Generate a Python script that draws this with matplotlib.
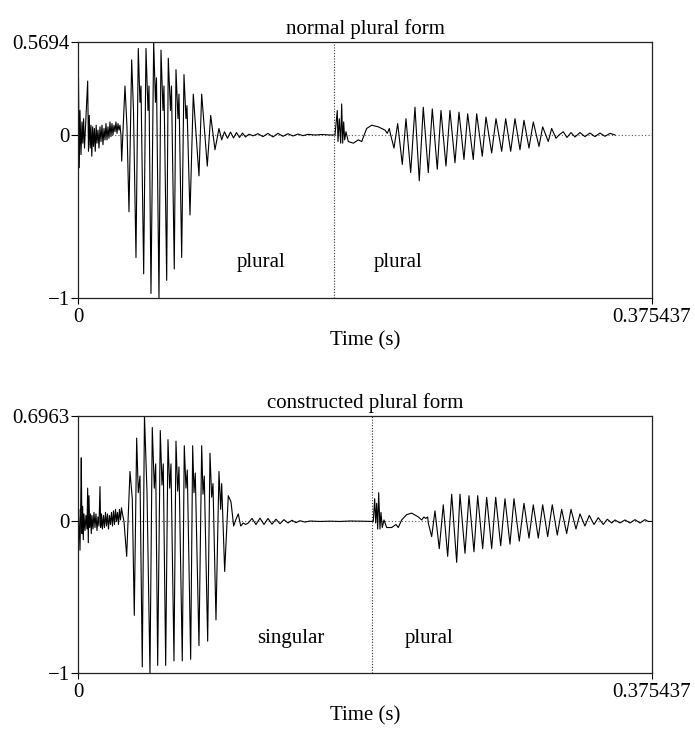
import numpy as np
import matplotlib
matplotlib.use("Agg")
import matplotlib.pyplot as plt

plt.rcParams['font.family'] = ['Liberation Serif', 'DejaVu Serif']
plt.rcParams['font.size'] = 15

# time axis end (s) and segment boundaries
t_end = 0.375437
boundary_top = 0.1674
boundary_bottom = 0.1923
titles = ["normal plural form", "constructed plural form"]
ymax = [0.5694, 0.6963]

# waveform turning points: (time in ms, amplitude)
top_noise = [(0.0, 0.0), (0.33, 0.35), (0.85, -0.20), (1.31, 0.15), (1.96, -0.12), (2.62, 0.08),
             (3.14, -0.05), (3.66, 0.10), (4.25, -0.08), (4.91, 0.05), (6.34, 0.33), (6.87, -0.10),
             (7.39, 0.12), (7.98, -0.08), (8.50, 0.06), (9.03, -0.13), (9.61, 0.05), (10.14, -0.07),
             (10.73, 0.04), (11.31, -0.10), (11.90, 0.06), (12.43, -0.05), (13.08, 0.03), (13.74, -0.08),
             (14.39, 0.05), (15.04, -0.04), (15.70, 0.06), (16.35, -0.06), (17.01, 0.04), (17.66, -0.03),
             (18.31, 0.07), (18.97, -0.03), (19.62, 0.05), (20.28, -0.02), (20.93, 0.08), (21.58, -0.01),
             (22.24, 0.07), (22.89, 0.0), (23.55, 0.06), (24.20, 0.02), (24.85, 0.08), (25.51, 0.01),
             (26.16, 0.07), (26.82, 0.03), (27.47, 0.06), (28.12, 0.0), (28.58, -0.16)]
top_burst = [(30.74, 0.30), (32.05, 0.05), (33.36, -0.47), (35.12, 0.46), (36.30, 0.15), (37.94, -0.75),
             (39.44, 0.53), (40.55, 0.20), (41.21, 0.30), (42.97, -0.85), (44.48, 0.53), (45.78, 0.15),
             (46.44, 0.30), (47.75, -0.97), (49.51, 0.57), (50.69, 0.20), (51.34, 0.35), (52.98, -1.0),
             (54.29, 0.52), (55.60, 0.15), (56.25, 0.30), (58.02, -0.89), (59.06, 0.47), (60.50, 0.15),
             (61.15, 0.30), (62.99, -0.82), (64.10, 0.40), (65.41, 0.10), (66.06, 0.25), (67.83, -0.75),
             (69.33, 0.37), (70.64, 0.10), (71.29, 0.18), (73.26, -0.49), (75.42, 0.25), (79.14, -0.25),
             (80.91, 0.25), (84.57, -0.19), (86.80, 0.12), (89.61, -0.09), (92.22, 0.04), (93.99, -0.03)]
top_ripple = [(95.82, 0.02), (97.78, -0.02), (99.75, 0.018), (101.71, -0.018), (103.67, 0.015),
              (105.63, -0.015), (107.59, 0.012), (109.56, -0.012), (111.85, 0.005), (114.46, -0.005),
              (117.73, 0.008), (121.00, -0.01), (124.27, 0.01), (127.54, -0.012), (130.81, 0.01),
              (134.08, -0.008), (137.35, 0.008), (140.63, -0.006), (143.90, 0.006), (147.17, -0.004),
              (150.44, 0.004), (155.01, 0.0), (159.59, 0.003), (164.83, 0.0), (167.44, 0.0)]
top_onset = [(168.10, 0.0), (169.60, 0.15), (170.06, -0.04), (170.91, 0.10), (171.82, -0.05), (172.48, 0.19),
             (173.13, -0.05), (173.79, 0.08), (174.44, -0.03), (175.29, 0.02), (176.79, -0.04), (180.07, -0.05),
             (183.34, -0.03), (185.56, -0.04), (188.83, 0.04), (192.10, 0.06), (196.42, 0.05), (200.80, 0.03),
             (202.30, 0.01), (203.61, 0.04), (204.53, 0.0)]
top_vowel = [(206.69, -0.08), (209.11, 0.07), (212.12, -0.18), (214.53, 0.10), (217.61, -0.23), (220.42, 0.17),
             (223.23, -0.28), (225.85, 0.17), (229.12, -0.23), (231.74, 0.16), (235.01, -0.21), (237.43, 0.15),
             (240.70, -0.19), (243.31, 0.15), (246.58, -0.17), (249.20, 0.14), (252.47, -0.15), (254.89, 0.13),
             (258.55, -0.15), (260.78, 0.13), (264.44, -0.13), (266.86, 0.11), (270.59, -0.11), (273.40, 0.10),
             (277.13, -0.10), (279.75, 0.10), (283.02, -0.10), (285.83, 0.10), (289.10, -0.09), (291.72, 0.09),
             (294.99, -0.08), (297.80, 0.08), (301.53, -0.07), (303.95, 0.05), (307.61, -0.04), (309.83, 0.04),
             (312.65, -0.02), (314.61, 0.0), (317.42, 0.02), (319.84, -0.015), (322.46, 0.015), (325.07, -0.012),
             (328.34, 0.015), (331.61, -0.01), (334.88, 0.012), (338.15, -0.01), (341.42, 0.012), (344.69, -0.008),
             (347.97, 0.01), (351.24, 0.0)]

bot_noise = [(0.0, 0.0), (0.46, 0.08), (0.85, -0.05), (1.31, -0.19), (1.77, 0.10), (2.16, 0.42), (2.62, -0.08),
             (3.07, 0.10), (3.47, -0.12), (3.92, 0.05), (4.58, -0.06), (5.23, 0.04), (5.89, -0.05), (6.34, 0.22),
             (6.74, -0.14), (7.19, 0.17), (7.65, -0.04), (8.18, 0.05), (8.70, -0.08), (9.16, 0.04), (9.81, -0.05),
             (10.47, 0.06), (11.12, -0.04), (11.77, 0.05), (12.43, -0.06), (13.08, 0.03), (13.74, -0.03),
             (14.39, 0.23), (14.85, -0.04), (15.37, 0.05), (16.02, -0.05), (16.68, 0.04), (17.33, -0.04),
             (17.99, 0.06), (18.64, -0.03), (19.30, 0.05), (19.95, -0.05), (20.60, 0.04), (21.26, -0.02),
             (21.91, 0.06), (22.57, -0.03), (23.22, 0.07), (23.87, -0.02), (24.53, 0.08), (25.18, 0.0),
             (25.84, 0.06), (26.49, -0.02), (27.14, 0.08), (27.80, 0.01), (28.45, 0.09), (29.11, 0.05), (30.09, 0.0)]
bot_burst = [(31.85, -0.23), (34.01, 0.33), (35.52, 0.15), (36.82, -0.62), (38.39, 0.55), (39.44, 0.19),
             (40.55, 0.30), (42.06, -0.96), (43.49, 0.70), (45.13, 0.20), (47.09, -1.0), (48.60, 0.62),
             (49.91, 0.22), (50.82, 0.38), (52.13, -0.95), (53.83, 0.60), (54.94, 0.24), (55.79, 0.38),
             (57.36, -0.95), (58.87, 0.54), (59.98, 0.22), (60.83, 0.38), (62.79, -0.92), (64.10, 0.53),
             (65.21, 0.20), (66.06, 0.36), (68.22, -0.92), (69.53, 0.50), (70.64, 0.22), (71.49, 0.34),
             (73.71, -0.91), (75.02, 0.50), (75.87, 0.19), (76.72, 0.32), (79.14, -0.82), (80.91, 0.50),
             (81.76, 0.18), (82.61, 0.30), (84.83, -0.79), (86.34, 0.45), (87.45, 0.16), (88.30, 0.25),
             (90.26, -0.65), (92.22, 0.33), (93.34, 0.08), (93.99, 0.25), (95.95, -0.33), (98.31, 0.17),
             (100.07, 0.13), (101.84, -0.03), (103.15, 0.01), (104.85, 0.05), (106.42, -0.03), (108.12, -0.01),
             (109.69, -0.02), (111.39, -0.01)]
bot_ripple = [(113.81, 0.02), (116.42, -0.02), (119.04, 0.022), (121.66, -0.02), (124.27, 0.02), (126.89, -0.018),
              (129.51, 0.015), (132.12, -0.015), (134.74, 0.012), (137.35, -0.01), (139.97, 0.008),
              (142.59, -0.008), (145.20, 0.005), (148.47, -0.004), (151.74, 0.003), (158.28, 0.0),
              (164.83, 0.002), (171.37, 0.0), (177.91, 0.003), (184.45, 0.002), (190.99, 0.0)]
bot_onset = [(193.15, 0.0), (194.06, 0.15), (194.72, -0.01), (195.37, 0.12), (196.02, -0.05), (196.68, 0.19),
             (197.53, -0.05), (198.18, 0.06), (199.03, -0.04), (200.15, 0.01), (201.91, -0.04), (205.18, -0.04),
             (207.99, -0.02), (209.50, -0.04), (211.72, 0.01), (214.99, 0.045), (218.26, 0.055), (222.58, 0.03),
             (224.80, 0.01), (226.31, 0.03), (227.42, 0.02), (228.73, 0.03), (229.12, -0.01)]
bot_vowel = [(231.34, -0.10), (233.50, 0.07), (236.31, -0.18), (238.93, 0.11), (241.81, -0.23), (244.43, 0.18),
             (247.70, -0.27), (249.85, 0.18), (253.13, -0.21), (255.74, 0.17), (259.01, -0.20), (261.43, 0.17),
             (264.70, -0.18), (267.32, 0.16), (270.59, -0.18), (273.21, 0.16), (276.48, -0.16), (279.29, 0.15),
             (282.56, -0.15), (285.17, 0.15), (288.64, -0.13), (291.72, 0.12), (294.99, -0.11), (297.80, 0.11),
             (301.07, -0.11), (303.95, 0.11), (307.22, -0.10), (310.23, 0.11), (313.50, -0.09), (316.37, 0.08),
             (319.64, -0.08), (322.46, 0.08), (325.73, -0.05), (328.34, 0.05), (331.61, -0.03), (334.43, 0.04),
             (337.50, -0.02), (340.31, 0.025), (343.58, -0.02), (346.20, 0.015), (349.08, -0.01), (351.24, 0.01),
             (354.51, -0.01), (357.78, 0.01), (361.05, -0.01), (364.32, 0.012), (367.59, -0.01), (370.86, 0.012),
             (373.02, 0.0), (375.44, 0.0)]

# word labels: (text, time s, amplitude)
top_words = [("plural", 0.1197, -0.78), ("plural", 0.2095, -0.78)]
bot_words = [("singular", 0.1393, -0.77), ("plural", 0.2296, -0.77)]

panels = [
    (top_noise + top_burst + top_ripple + top_onset + top_vowel, boundary_top, top_words),
    (bot_noise + bot_burst + bot_ripple + bot_onset + bot_vowel, boundary_bottom, bot_words),
]

fig = plt.figure(figsize=(6.95, 7.33), dpi=100)
rects = [[0.1122, 0.5930, 0.8259, 0.3497], [0.1122, 0.0819, 0.8259, 0.3506]]

for i, (pts, bnd, words) in enumerate(panels):
    ax = fig.add_axes(rects[i])
    pts = np.array(pts)
    ax.plot(pts[:, 0] / 1000.0, pts[:, 1], color='black', lw=0.8)
    ax.axhline(0, color='#555555', lw=0.8, ls=(0, (1, 2)), zorder=0)
    ax.axvline(bnd, color='#333333', lw=0.8, ls=(0, (1, 1.5)))
    for txt, tx, ty in words:
        ax.text(tx, ty, txt, ha='center', va='center')
    ax.set_xlim(0, t_end)
    ax.set_ylim(-1, ymax[i])
    ax.set_xticks([0, t_end])
    ax.set_xticklabels(["0", "0.375437"])
    ax.set_yticks([-1, 0, ymax[i]])
    ax.set_yticklabels(["\u22121", "0", "%.4f" % ymax[i]])
    ax.tick_params(axis='x', length=4, width=0.8, pad=3)
    ax.tick_params(axis='y', length=5, width=0.8, pad=1)
    for s in ax.spines.values():
        s.set_linewidth(0.9)
        s.set_color('#222222')
    ax.set_xlabel("Time (s)", labelpad=3)
    ax.set_title(titles[i], fontsize=15, pad=6)

fig.savefig("out.png", dpi=100)
